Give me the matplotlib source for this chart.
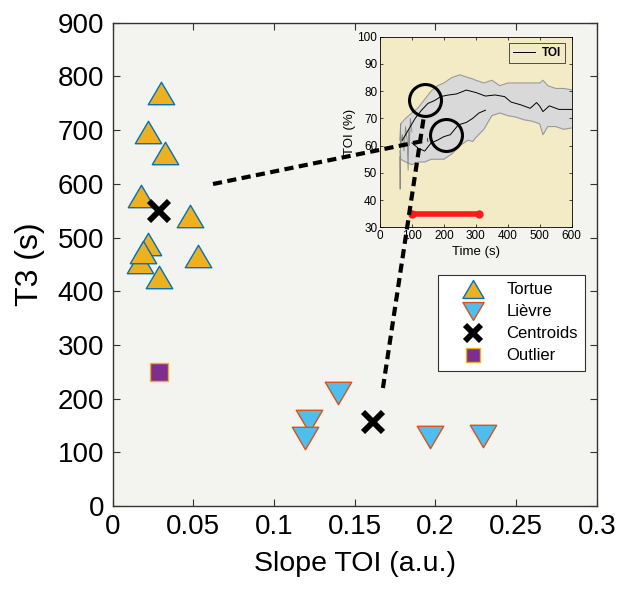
import matplotlib
matplotlib.use("Agg")
import matplotlib.pyplot as plt
from matplotlib.path import Path
from matplotlib.lines import Line2D
import numpy as np

plt.rcParams['font.family'] = ['Liberation Sans', 'DejaVu Sans']

# ---------------- data ----------------
tortue_x = [0.030, 0.022, 0.0326, 0.0175, 0.048, 0.0218, 0.053, 0.0167, 0.019, 0.029]
tortue_y = [770, 697, 657, 577, 540, 488, 465, 455, 473, 427]
lievre_x = [0.1397, 0.1216, 0.119, 0.1965, 0.2294]
lievre_y = [210, 158, 126, 129, 131]
centroid_x = [0.029, 0.1616]
centroid_y = [550, 156]
outlier_x = [0.0286]
outlier_y = [250]

# inset: TOI time courses
band_t = [62, 65, 80, 100, 120, 140, 160, 180, 200, 225, 250, 275, 290, 300, 325, 350,
          375, 400, 425, 450, 475, 500, 510, 525, 550, 575, 600]
band_hi = [62, 68, 70, 72, 74, 77, 80, 82, 83, 85, 86, 85, 84.5, 84, 83, 84,
           82, 83, 83, 83, 83, 83, 84, 82, 81, 81, 80.5]
band_lo = [58, 55, 54, 53, 54, 54, 55, 55, 55, 57, 60, 62, 61.5, 63, 66, 71,
           72, 71, 70.5, 69.5, 69, 68, 64, 67, 67, 66, 66.5]
fast_t = [70, 90, 110, 130, 150, 170, 190, 210, 240, 270, 300, 330, 360, 390, 410,
          440, 470, 490, 500, 510, 530, 560, 600]
fast_v = [62, 66, 70, 73, 75.5, 76.5, 78, 78.5, 79, 80.4, 79.5, 78.2, 78.6, 78, 76,
          75, 73.7, 75.8, 74.5, 72.5, 74.6, 73.3, 73.3]
slow_t = [100, 120, 140, 160, 180, 200, 220, 245, 270, 290, 310, 330]
slow_v = [61, 59, 58, 61, 62, 63.3, 64, 67.6, 68.5, 70, 72, 73]
trace_t = [62, 63, 64, 66, 70, 75, 80, 85, 88, 90, 92, 95, 100]
trace_v = [56, 44, 68, 60, 64, 58, 67, 62, 51, 66, 60, 70, 65]
circle_t = [140, 207]
circle_v = [76.8, 63.9]
bar_t = [100, 310]
bar_v = [35, 35]

# ---------------- figure ----------------
fig = plt.figure(figsize=(6.19, 5.91), dpi=100)
ax = fig.add_axes([0.182, 0.1438, 0.782, 0.8178])
ax.set_facecolor('#f3f3ef')

tri_up = Path([(0, 0.85), (-1, -0.85), (1, -0.85), (0, 0.85)],
              [Path.MOVETO, Path.LINETO, Path.LINETO, Path.CLOSEPOLY])
tri_dn = Path([(0, -0.85), (-1, 0.85), (1, 0.85), (0, -0.85)],
              [Path.MOVETO, Path.LINETO, Path.LINETO, Path.CLOSEPOLY])

h1, = ax.plot(tortue_x, tortue_y, ls='none', marker=tri_up, ms=19,
              mfc='#EDB120', mec='#0072BD', mew=1.0, label='Tortue')
h2, = ax.plot(lievre_x, lievre_y, ls='none', marker=tri_dn, ms=19,
              mfc='#4DBEEE', mec='#D95319', mew=1.0, label='Lièvre')
h3, = ax.plot(centroid_x, centroid_y, ls='none', marker='x', ms=15,
              mec='black', mew=4.2, label='Centroids')
h4, = ax.plot(outlier_x, outlier_y, ls='none', marker='s', ms=12.5,
              mfc='#7E2F8E', mec='#EDB120', mew=1.0, label='Outlier')

ax.set_xlim(0, 0.3)
ax.set_ylim(0, 900)
ax.set_xticks([0, 0.05, 0.1, 0.15, 0.2, 0.25, 0.3])
ax.set_xticklabels(['0', '0.05', '0.1', '0.15', '0.2', '0.25', '0.3'])
ax.set_yticks(range(0, 1000, 100))
ax.tick_params(direction='in', length=5, width=0.8, top=True, right=True,
               labelsize=20, pad=6, color='#333333')
for s in ax.spines.values():
    s.set_color('#333333')
    s.set_linewidth(1.0)
ax.set_xlabel('Slope TOI (a.u.)', fontsize=20.5, labelpad=8)
ax.set_ylabel('T3 (s)', fontsize=23, labelpad=9)

leg = ax.legend(handles=[h1, h2, h3, h4], loc='upper left',
                bbox_to_anchor=(438.3 / 619, 1 - 275 / 591),
                bbox_transform=fig.transFigure, borderaxespad=0,
                fontsize=12, markerscale=0.8, frameon=True, fancybox=False,
                edgecolor='#333333', facecolor='white', framealpha=1,
                borderpad=0.45, labelspacing=0.42, handletextpad=0.33,
                handlelength=3.3)
leg.get_frame().set_linewidth(0.8)

# ---------------- inset ----------------
ins = fig.add_axes([380 / 619, 1 - 227.3 / 591, 191.7 / 619, 190.6 / 591])
ins.set_facecolor('#f2ebc6')
ins.fill_between(band_t, band_lo, band_hi, color='#d9d9d9', lw=0)
ins.plot(band_t, band_hi, color='#999999', lw=0.8)
ins.plot(band_t, band_lo, color='#999999', lw=0.8)
ins.plot(trace_t, trace_v, color='#888888', lw=0.6)
ins.plot(fast_t, fast_v, color='black', lw=0.7, label='TOI')
ins.plot(slow_t, slow_v, color='black', lw=0.7)
ins.plot(bar_t, bar_v, color='#ff1a1a', lw=4, solid_capstyle='round',
         marker='o', ms=5, mfc='#ff1a1a', mec='#ff1a1a')
ins.plot(circle_t, circle_v, ls='none', marker='o', ms=23, mfc='none',
         mec='black', mew=2.2)
ins.set_xlim(0, 600)
ins.set_ylim(30, 100)
ins.set_xticks(range(0, 700, 100))
ins.set_yticks(range(30, 110, 10))
ins.tick_params(direction='in', length=2.5, width=0.5, labelsize=8.5, pad=2,
                top=True, right=True)
for s in ins.spines.values():
    s.set_linewidth(0.6)
ins.set_xlabel('Time (s)', fontsize=9.5, labelpad=3)
ins.set_ylabel('TOI (%)', fontsize=9.5, labelpad=1)
il = ins.legend(loc='upper right', frameon=True, fancybox=False,
                edgecolor='#333333', facecolor='#f2ebc6', framealpha=1,
                handlelength=1.8, borderpad=0.35, handletextpad=0.6,
                borderaxespad=0.55, prop={'weight': 'bold', 'size': 8.5})
il.get_frame().set_linewidth(0.6)

# ---------------- dashed connectors ----------------
conn1_x = [0.0622, 0.1954]
conn1_y = [599.6, 681.6]
conn2_x = [0.1675, 0.193]
conn2_y = [219.7, 728]
for cx, cy in [(conn1_x, conn1_y), (conn2_x, conn2_y)]:
    fig.add_artist(Line2D(cx, cy, transform=ax.transData, color='black',
                          lw=3, ls=(0, (2.2, 1.3)), zorder=10))

fig.savefig('out.png', dpi=100)
